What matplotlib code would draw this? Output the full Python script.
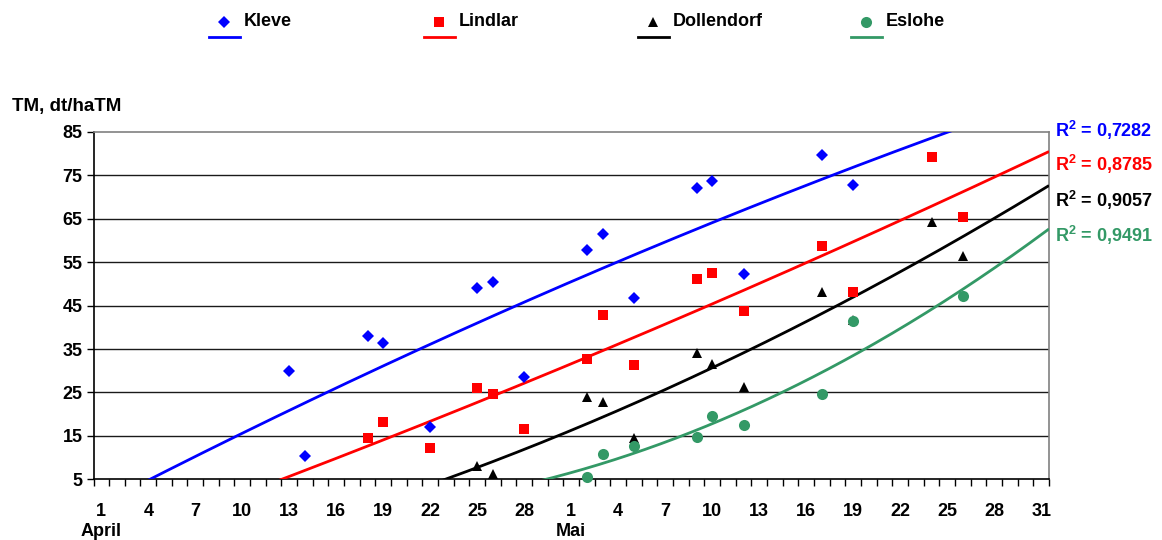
import numpy as np
import matplotlib
matplotlib.use('Agg')
import matplotlib.pyplot as plt
from matplotlib.lines import Line2D
import matplotlib.transforms as mtransforms

plt.rcParams['font.family'] = ['Liberation Sans', 'DejaVu Sans']
plt.rcParams['font.weight'] = 'bold'
plt.rcParams['mathtext.fontset'] = 'custom'
plt.rcParams['mathtext.rm'] = 'Liberation Sans:bold'
plt.rcParams['mathtext.it'] = 'Liberation Sans:bold'
plt.rcParams['mathtext.bf'] = 'Liberation Sans:bold'

# ---- data (x = days since 1 April; 30 = 1 Mai) ----
series_names = ['Kleve', 'Lindlar', 'Dollendorf', 'Eslohe']

kleve_days = [12, 13, 17, 18, 21, 24, 25, 27, 31, 32, 34, 38, 39, 41, 46, 48]
kleve_vals = [30.0, 10.4, 37.9, 36.5, 17.1, 49.1, 50.5, 28.6, 57.8, 61.6, 46.8, 72.0, 73.7, 52.2, 79.7, 72.8]

lindlar_days = [17, 18, 21, 24, 25, 27, 31, 32, 34, 38, 39, 41, 46, 48, 53, 55]
lindlar_vals = [14.4, 18.1, 12.1, 26.0, 24.6, 16.6, 32.6, 42.9, 31.3, 51.1, 52.5, 43.8, 58.8, 48.2, 79.2, 65.4]

dollendorf_days = [24, 25, 31, 32, 34, 38, 39, 41, 46, 48, 53, 55]
dollendorf_vals = [8.1, 6.2, 24.0, 22.9, 14.4, 34.0, 31.6, 26.2, 48.2, 41.7, 64.3, 56.4]

eslohe_days = [31, 32, 34, 38, 39, 41, 46, 48, 55]
eslohe_vals = [5.5, 10.8, 12.7, 14.7, 19.6, 17.5, 24.7, 41.5, 47.2]

r2_labels = ['0,7282', '0,8785', '0,9057', '0,9491']
trend_orders = [2, 2, 2, 2]

day_tick_labels = ['1', '4', '7', '10', '13', '16', '19', '22', '25', '28',
                   '1', '4', '7', '10', '13', '16', '19', '22', '25', '28', '31']
month_labels = ['April', 'Mai']
month_start_days = [0, 30]
y_ticks = [5, 15, 25, 35, 45, 55, 65, 75, 85]

y_label = 'TM, dt/haTM'

# ---- style ----
colors = ['#0000FF', '#FF0000', '#000000', '#339966']
markers = ['D', 's', '^', 'o']
msizes = [6.3, 6.5, 6.5, 8.0]
FS = 13

W, H = 1162, 540
fig = plt.figure(figsize=(W / 100, H / 100), dpi=100)
ax = fig.add_axes([93.5 / W, 1 - 479.3 / H, 955.5 / W, 347.3 / H])

ax.set_xlim(-0.5, 60.5)
ax.set_ylim(5, 85)

all_days = [kleve_days, lindlar_days, dollendorf_days, eslohe_days]
all_vals = [kleve_vals, lindlar_vals, dollendorf_vals, eslohe_vals]

# grid
for yv in y_ticks[1:-1]:
    ax.axhline(yv, color='#1a1a1a', lw=1.0, zorder=1)

# trendlines (polynomial fits)
xx = np.linspace(-0.5, 60.5, 500)
for d, v, c, o in zip(all_days, all_vals, colors, trend_orders):
    coef = np.polyfit(d, v, o)
    ax.plot(xx, np.polyval(coef, xx), color=c, lw=2.0, zorder=3, solid_capstyle='butt')

# markers
for d, v, c, m, s in zip(all_days, all_vals, colors, markers, msizes):
    ax.plot(d, v, linestyle='none', marker=m, markersize=s, color=c,
            markeredgewidth=0, zorder=4, clip_on=False)

# spines
ax.spines['left'].set_color('black')
ax.spines['bottom'].set_color('black')
ax.spines['top'].set_color('#808080')
ax.spines['right'].set_color('#808080')
for sp in ax.spines.values():
    sp.set_linewidth(1.2)

# y axis
ax.set_yticks(y_ticks)
ax.set_yticklabels([str(t) for t in y_ticks], fontsize=FS, fontweight='bold')
ax.tick_params(axis='y', length=5, width=1, direction='out', pad=3)

# x axis
major_pos = list(range(0, 61, 3))
ax.set_xticks(major_pos)
ax.set_xticklabels(day_tick_labels, fontsize=FS, fontweight='bold')
ax.set_xticks(np.arange(-0.5, 61, 1.0), minor=True)
ax.tick_params(axis='x', which='major', length=0, pad=17)
ax.tick_params(axis='x', which='minor', length=5, width=1, direction='out')

trans = mtransforms.blended_transform_factory(ax.transData, ax.transAxes)
for lab, dd in zip(month_labels, month_start_days):
    ax.text(dd, -(532 - 479.3) / 347.3, lab, transform=trans, ha='center', va='center',
            fontsize=FS, fontweight='bold')

fig.text(12 / W, 1 - 107 / H, y_label, ha='left', va='center', fontsize=FS + 0.5, fontweight='bold')

# R^2 labels
r2_y = [130, 164, 200, 235]
for lab, c, yy in zip(r2_labels, colors, r2_y):
    fig.text(1055 / W, 1 - yy / H, 'R$^{2}$ = ' + lab, ha='left', va='center',
             fontsize=FS, fontweight='bold', color=c)

# legend (manual)
leg_marker_x = [224, 439, 653, 866]
for name, c, m, s, mx in zip(series_names, colors, markers, msizes, leg_marker_x):
    fig.add_artist(Line2D([mx / W], [1 - 22 / H], marker=m, markersize=s, color=c,
                          markeredgewidth=0, linestyle='none', transform=fig.transFigure))
    fig.add_artist(Line2D([(mx - 15) / W, (mx + 16) / W], [1 - 36.7 / H, 1 - 36.7 / H],
                          color=c, lw=2.0, transform=fig.transFigure))
    fig.text((mx + 20) / W, 1 - 22 / H, name, ha='left', va='center',
             fontsize=FS, fontweight='bold')

fig.savefig('out.png', dpi=100)
